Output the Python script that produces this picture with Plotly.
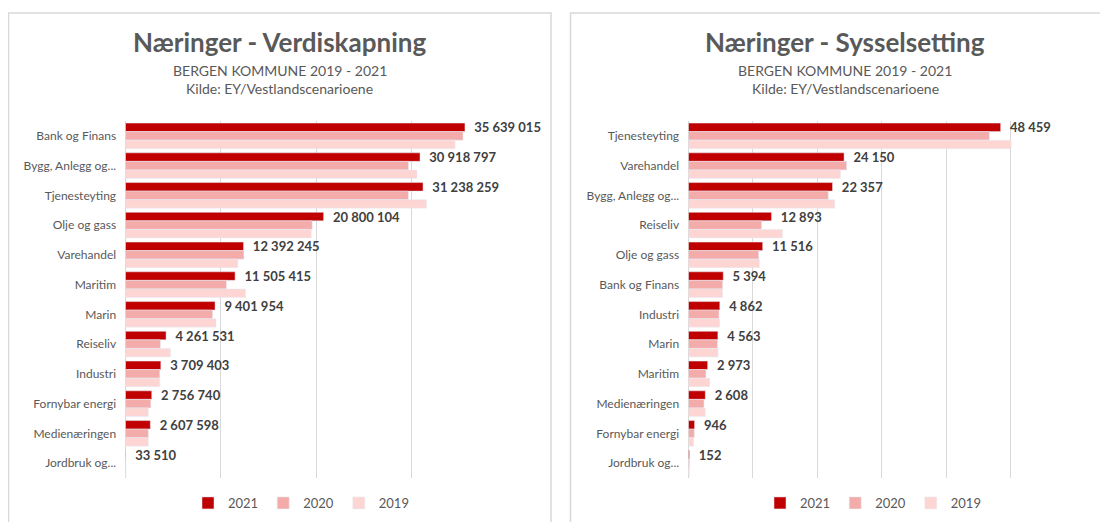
import plotly.graph_objects as go

# ---- Data: Verdiskapning (value creation) ----
cat_v = ["Bank og Finans", "Bygg, Anlegg og...", "Tjenesteyting", "Olje og gass", "Varehandel",
         "Maritim", "Marin", "Reiseliv", "Industri", "Fornybar energi", "Medienæringen", "Jordbruk og..."]
v2021 = [35639015, 30918797, 31238259, 20800104, 12392245, 11505415, 9401954, 4261531, 3709403,
         2756740, 2607598, 33510]
v2020 = [35430000, 29700000, 29700000, 19600000, 12430000, 10600000, 9140000, 3670000, 3600000,
         2660000, 2400000, 35000]
v2019 = [34600000, 30600000, 31600000, 19500000, 11800000, 12600000, 9500000, 4720000, 3600000,
         2400000, 2400000, 35000]

# ---- Data: Sysselsetting (employment) ----
cat_s = ["Tjenesteyting", "Varehandel", "Bygg, Anlegg og...", "Reiseliv", "Olje og gass",
         "Bank og Finans", "Industri", "Marin", "Maritim", "Medienæringen", "Fornybar energi", "Jordbruk og..."]
s2021 = [48459, 24150, 22357, 12893, 11516, 5394, 4862, 4563, 2973, 2608, 946, 152]
s2020 = [46700, 24550, 21700, 11350, 10900, 5300, 4730, 4500, 2700, 2400, 900, 150]
s2019 = [50100, 23600, 22700, 14600, 11000, 5300, 4830, 4600, 3300, 2600, 800, 150]

years = ["2021", "2020", "2019"]
colors = ["#C00000", "#F4ACAA", "#FDD5D3"]

FONT = "Lato"
GREY = "#595959"

# The page body has an 8px margin; lay out in page pixels and convert.
OFF = 8
W, H = 1108 - OFF, 522 - OFF


def px(x):
    return (x - OFF) / W


def py(y):
    return (H - (y - OFF)) / H


def fmt(v):
    return "\u00a0\u00a0" + f"{v:,}".replace(",", " ")


fig = go.Figure()

for i, (yr, vals) in enumerate(zip(years, [v2021, v2020, v2019])):
    fig.add_trace(go.Bar(
        y=cat_v, x=vals, orientation="h", name=yr, marker_color=colors[i],
        xaxis="x", yaxis="y", legend="legend", offsetgroup=yr,
        text=[fmt(v) for v in vals] if i == 0 else None,
        textposition="outside" if i == 0 else None,
        textfont=dict(family=FONT, size=13, color="#404040", weight="bold"),
        cliponaxis=False, constraintext="none", hoverinfo="x+y",
    ))

for i, (yr, vals) in enumerate(zip(years, [s2021, s2020, s2019])):
    fig.add_trace(go.Bar(
        y=cat_s, x=vals, orientation="h", name=yr, marker_color=colors[i],
        xaxis="x2", yaxis="y2", legend="legend2", offsetgroup=yr,
        text=[fmt(v) for v in vals] if i == 0 else None,
        textposition="outside" if i == 0 else None,
        textfont=dict(family=FONT, size=13, color="#404040", weight="bold"),
        cliponaxis=False, constraintext="none", hoverinfo="x+y",
    ))

ydom = [py(478), py(121)]

axis_common = dict(showticklabels=False, showgrid=True, gridcolor="#D9D9D9", gridwidth=1,
                   zeroline=True, zerolinecolor="#D9D9D9", zerolinewidth=1, fixedrange=True)
yaxis_common = dict(autorange="reversed", type="category", showgrid=False, showline=False,
                    ticks="outside", ticklen=6, tickcolor="rgba(0,0,0,0)",
                    tickfont=dict(family=FONT, size=12, color=GREY), fixedrange=True)

legend_common = dict(orientation="h", xanchor="center", y=py(503), yanchor="middle",
                     font=dict(family=FONT, size=13, color=GREY), itemwidth=30,
                     traceorder="normal", bgcolor="rgba(0,0,0,0)")

fig.update_layout(
    width=W, height=H,
    margin=dict(l=0, r=0, t=0, b=0),
    paper_bgcolor="white", plot_bgcolor="white",
    barmode="group", bargap=0.14, bargroupgap=0,
    font=dict(family=FONT, color=GREY),
    xaxis=dict(domain=[px(125.5), px(506.5)], range=[0, 40000000], dtick=10000000, anchor="y", **axis_common),
    yaxis=dict(domain=ydom, anchor="x", **yaxis_common),
    xaxis2=dict(domain=[px(688.5), px(1075)], range=[0, 60000], dtick=10000, anchor="y2", **axis_common),
    yaxis2=dict(domain=ydom, anchor="x2", **yaxis_common),
    legend=dict(x=px(301), **legend_common),
    legend2=dict(x=px(873), **legend_common),
    showlegend=True,
)

# Panel borders
fig.add_shape(type="rect", xref="paper", yref="paper", x0=px(8.5), x1=px(551), y0=-0.05, y1=py(13),
              line=dict(color="#D9D9D9", width=1.5), layer="below")
fig.add_shape(type="rect", xref="paper", yref="paper", x0=px(570.5), x1=1.05, y0=-0.05, y1=py(13),
              line=dict(color="#D9D9D9", width=1.5), layer="below")

# Titles
titles = [("Næringer - Verdiskapning", 279.5), ("Næringer - Sysselsetting", 845)]
for t, cx in titles:
    fig.add_annotation(text=f"<b>{t}</b>", xref="paper", yref="paper", x=px(cx), y=py(42),
                       xanchor="center", yanchor="middle", showarrow=False,
                       font=dict(family=FONT, size=26, color=GREY))
    fig.add_annotation(text="BERGEN KOMMUNE 2019 - 2021", xref="paper", yref="paper", x=px(cx),
                       y=py(70), xanchor="center", yanchor="middle", showarrow=False,
                       font=dict(family=FONT, size=14, color=GREY))
    fig.add_annotation(text="Kilde: EY/Vestlandscenarioene", xref="paper", yref="paper", x=px(cx),
                       y=py(88), xanchor="center", yanchor="middle", showarrow=False,
                       font=dict(family=FONT, size=14, color=GREY))

fig.write_html("out.html")
